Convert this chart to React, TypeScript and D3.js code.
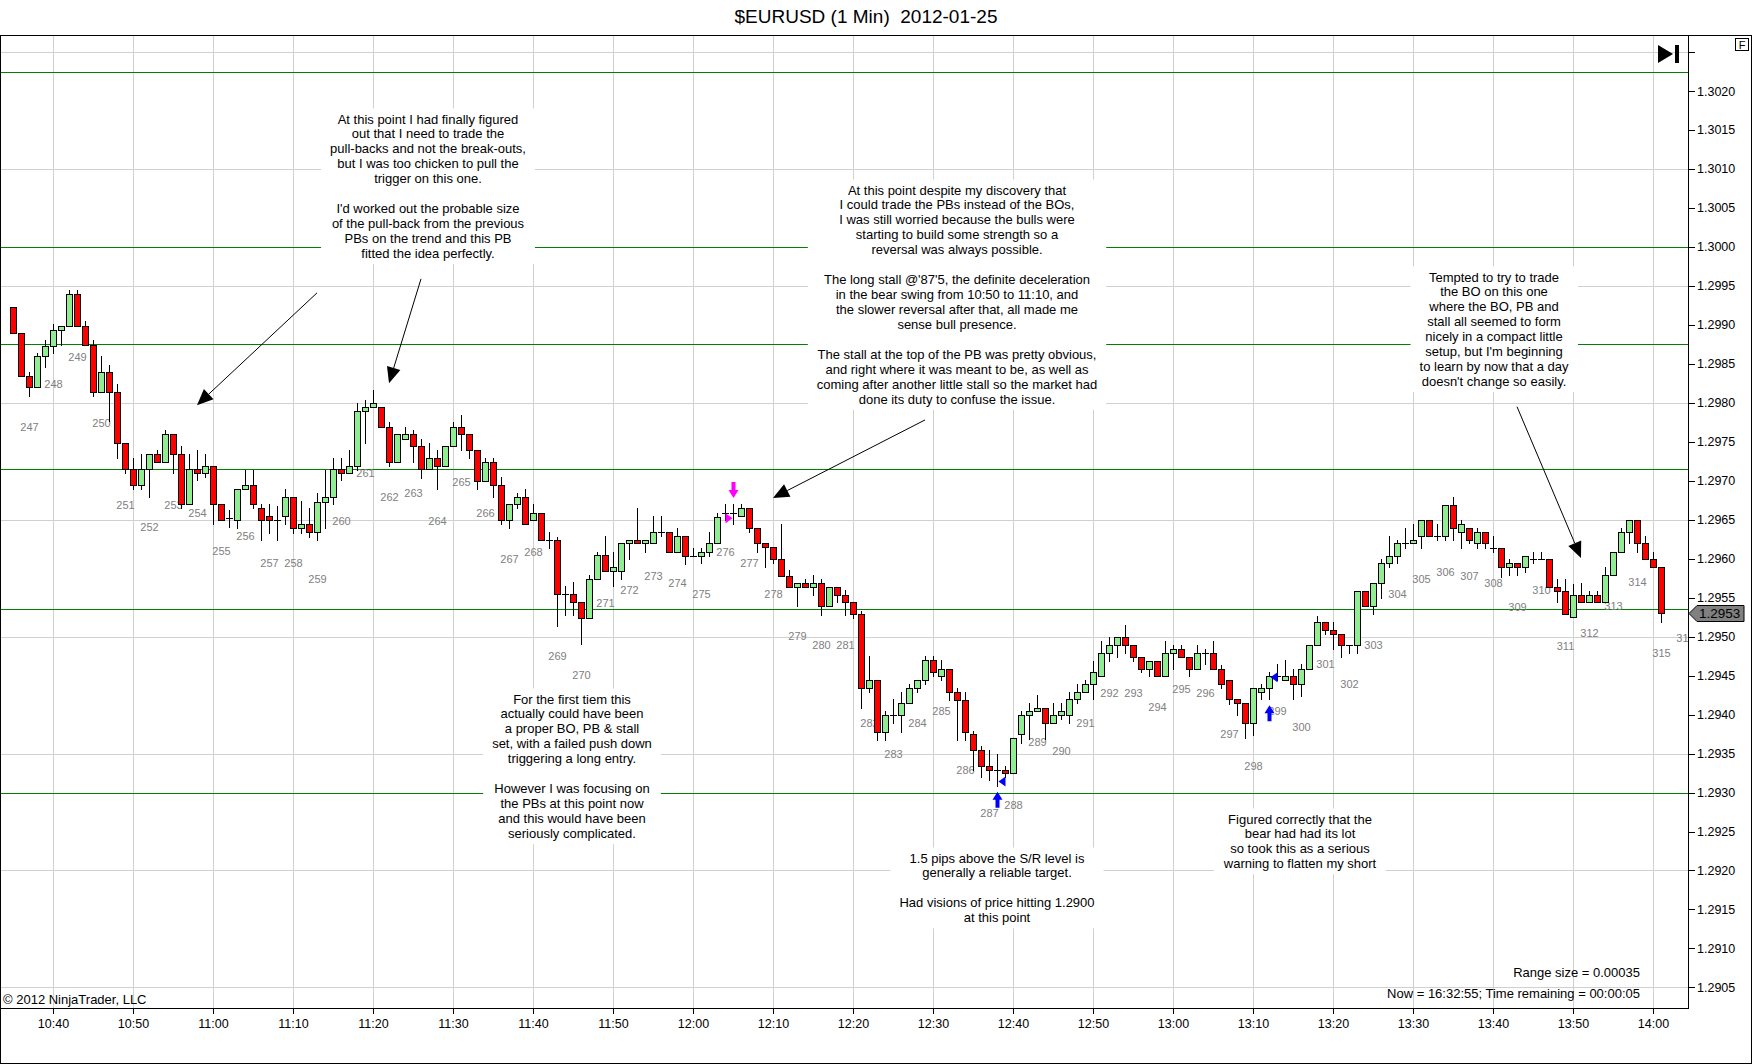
import { useEffect, useRef } from 'react';
import * as d3 from 'd3';

const W = 1752;
const H = 1064;
const FONT = '"Liberation Sans", Arial, sans-serif';

const TITLE = '$EURUSD (1 Min)  2012-01-25';
const FIRST_BAR = '10:35';

// one bar per minute, 10:35 .. 14:01
const opens = [
  1.29923, 1.29889, 1.29834, 1.29820, 1.29860, 1.29873, 1.29894, 1.29899, 1.29939, 1.29899,
  1.29874, 1.29814, 1.29839, 1.29814, 1.29749, 1.29715, 1.29695, 1.29715, 1.29734, 1.29724,
  1.29760, 1.29734, 1.29670, 1.29715, 1.29710, 1.29719, 1.29670, 1.29652, 1.29650, 1.29689,
  1.29694, 1.29665, 1.29655, 1.29650, 1.29655, 1.29679, 1.29639, 1.29644, 1.29634, 1.29673,
  1.29679, 1.29715, 1.29710, 1.29719, 1.29790, 1.29795, 1.29794, 1.29769, 1.29724, 1.29754,
  1.29760, 1.29744, 1.29715, 1.29729, 1.29719, 1.29744, 1.29769, 1.29760, 1.29739, 1.29700,
  1.29724, 1.29695, 1.29650, 1.29670, 1.29679, 1.29650, 1.29659, 1.29624, 1.29624, 1.29555,
  1.29555, 1.29544, 1.29524, 1.29574, 1.29605, 1.29584, 1.29584, 1.29620, 1.29624, 1.29620,
  1.29620, 1.29634, 1.29634, 1.29609, 1.29629, 1.29604, 1.29604, 1.29609, 1.29620, 1.29659,
  1.29659, 1.29655, 1.29665, 1.29639, 1.29620, 1.29615, 1.29599, 1.29578, 1.29564, 1.29569,
  1.29564, 1.29569, 1.29539, 1.29564, 1.29554, 1.29544, 1.29529, 1.29434, 1.29444, 1.29378,
  1.29399, 1.29399, 1.29415, 1.29434, 1.29444, 1.29470, 1.29449, 1.29459, 1.29429, 1.29419,
  1.29375, 1.29355, 1.29334, 1.29329, 1.29329, 1.29325, 1.29375, 1.29399, 1.29405, 1.29409,
  1.29389, 1.29399, 1.29399, 1.29420, 1.29429, 1.29439, 1.29449, 1.29479, 1.29489, 1.29499,
  1.29489, 1.29474, 1.29459, 1.29469, 1.29449, 1.29479, 1.29484, 1.29474, 1.29459, 1.29479,
  1.29479, 1.29459, 1.29444, 1.29420, 1.29415, 1.29389, 1.29429, 1.29434, 1.29449, 1.29444,
  1.29449, 1.29439, 1.29459, 1.29489, 1.29519, 1.29509, 1.29504, 1.29489, 1.29489, 1.29559,
  1.29539, 1.29569, 1.29594, 1.29604, 1.29620, 1.29620, 1.29629, 1.29649, 1.29629, 1.29629,
  1.29669, 1.29634, 1.29639, 1.29620, 1.29634, 1.29614, 1.29614, 1.29589, 1.29594, 1.29589,
  1.29599, 1.29599, 1.29599, 1.29564, 1.29559, 1.29525, 1.29554, 1.29544, 1.29554, 1.29544,
  1.29579, 1.29609, 1.29634, 1.29649, 1.29620, 1.29599, 1.29589,
];
const highs = [
  1.29923, 1.29889, 1.29840, 1.29864, 1.29880, 1.29901, 1.29899, 1.29945, 1.29945, 1.29905,
  1.29880, 1.29860, 1.29849, 1.29824, 1.29749, 1.29729, 1.29734, 1.29734, 1.29739, 1.29765,
  1.29760, 1.29744, 1.29734, 1.29739, 1.29734, 1.29719, 1.29670, 1.29662, 1.29689, 1.29714,
  1.29714, 1.29670, 1.29670, 1.29667, 1.29690, 1.29679, 1.29674, 1.29665, 1.29684, 1.29714,
  1.29729, 1.29729, 1.29740, 1.29800, 1.29804, 1.29816, 1.29794, 1.29775, 1.29760, 1.29769,
  1.29765, 1.29754, 1.29749, 1.29739, 1.29744, 1.29775, 1.29784, 1.29760, 1.29739, 1.29729,
  1.29729, 1.29705, 1.29670, 1.29684, 1.29689, 1.29670, 1.29659, 1.29634, 1.29628, 1.29565,
  1.29570, 1.29544, 1.29579, 1.29609, 1.29629, 1.29609, 1.29620, 1.29624, 1.29665, 1.29624,
  1.29655, 1.29655, 1.29634, 1.29639, 1.29629, 1.29614, 1.29614, 1.29634, 1.29659, 1.29670,
  1.29670, 1.29670, 1.29665, 1.29639, 1.29620, 1.29615, 1.29645, 1.29585, 1.29569, 1.29574,
  1.29579, 1.29574, 1.29564, 1.29564, 1.29560, 1.29544, 1.29533, 1.29475, 1.29444, 1.29404,
  1.29420, 1.29429, 1.29439, 1.29444, 1.29475, 1.29475, 1.29470, 1.29459, 1.29434, 1.29429,
  1.29379, 1.29360, 1.29355, 1.29349, 1.29334, 1.29370, 1.29405, 1.29415, 1.29425, 1.29409,
  1.29415, 1.29415, 1.29429, 1.29439, 1.29444, 1.29469, 1.29494, 1.29499, 1.29499, 1.29515,
  1.29489, 1.29474, 1.29469, 1.29469, 1.29494, 1.29489, 1.29489, 1.29474, 1.29489, 1.29484,
  1.29494, 1.29464, 1.29444, 1.29420, 1.29415, 1.29434, 1.29439, 1.29455, 1.29465, 1.29470,
  1.29459, 1.29465, 1.29489, 1.29526, 1.29519, 1.29519, 1.29504, 1.29489, 1.29559, 1.29559,
  1.29569, 1.29599, 1.29629, 1.29624, 1.29639, 1.29644, 1.29649, 1.29649, 1.29644, 1.29669,
  1.29679, 1.29649, 1.29639, 1.29639, 1.29634, 1.29629, 1.29614, 1.29599, 1.29594, 1.29604,
  1.29609, 1.29609, 1.29599, 1.29574, 1.29574, 1.29568, 1.29569, 1.29559, 1.29559, 1.29589,
  1.29609, 1.29639, 1.29649, 1.29649, 1.29629, 1.29609, 1.29589,
];
const lows = [
  1.29889, 1.29834, 1.29809, 1.29820, 1.29846, 1.29864, 1.29874, 1.29899, 1.29899, 1.29874,
  1.29809, 1.29814, 1.29776, 1.29729, 1.29710, 1.29689, 1.29689, 1.29679, 1.29724, 1.29724,
  1.29710, 1.29665, 1.29670, 1.29701, 1.29705, 1.29645, 1.29650, 1.29641, 1.29639, 1.29689,
  1.29665, 1.29624, 1.29633, 1.29624, 1.29644, 1.29633, 1.29633, 1.29628, 1.29624, 1.29639,
  1.29670, 1.29701, 1.29710, 1.29714, 1.29748, 1.29795, 1.29769, 1.29719, 1.29724, 1.29754,
  1.29724, 1.29704, 1.29715, 1.29689, 1.29719, 1.29744, 1.29739, 1.29729, 1.29689, 1.29700,
  1.29679, 1.29644, 1.29639, 1.29665, 1.29644, 1.29650, 1.29624, 1.29614, 1.29514, 1.29528,
  1.29528, 1.29490, 1.29524, 1.29574, 1.29584, 1.29565, 1.29574, 1.29599, 1.29620, 1.29609,
  1.29620, 1.29629, 1.29609, 1.29609, 1.29593, 1.29604, 1.29594, 1.29604, 1.29620, 1.29650,
  1.29644, 1.29655, 1.29634, 1.29609, 1.29589, 1.29594, 1.29578, 1.29564, 1.29539, 1.29564,
  1.29554, 1.29528, 1.29539, 1.29544, 1.29528, 1.29524, 1.29408, 1.29429, 1.29367, 1.29367,
  1.29389, 1.29378, 1.29415, 1.29429, 1.29439, 1.29449, 1.29444, 1.29419, 1.29368, 1.29368,
  1.29329, 1.29320, 1.29316, 1.29309, 1.29320, 1.29325, 1.29364, 1.29369, 1.29405, 1.29369,
  1.29389, 1.29394, 1.29389, 1.29415, 1.29429, 1.29420, 1.29449, 1.29469, 1.29474, 1.29479,
  1.29469, 1.29454, 1.29449, 1.29449, 1.29449, 1.29459, 1.29474, 1.29449, 1.29459, 1.29465,
  1.29459, 1.29434, 1.29414, 1.29399, 1.29370, 1.29374, 1.29420, 1.29420, 1.29444, 1.29444,
  1.29420, 1.29424, 1.29459, 1.29489, 1.29504, 1.29484, 1.29474, 1.29479, 1.29479, 1.29539,
  1.29529, 1.29549, 1.29589, 1.29594, 1.29614, 1.29620, 1.29614, 1.29629, 1.29624, 1.29624,
  1.29624, 1.29614, 1.29620, 1.29614, 1.29614, 1.29609, 1.29577, 1.29579, 1.29579, 1.29583,
  1.29594, 1.29599, 1.29564, 1.29544, 1.29529, 1.29525, 1.29544, 1.29544, 1.29544, 1.29544,
  1.29579, 1.29609, 1.29620, 1.29609, 1.29599, 1.29589, 1.29519,
];
const closes = [
  1.29889, 1.29834, 1.29820, 1.29860, 1.29873, 1.29894, 1.29899, 1.29939, 1.29899, 1.29874,
  1.29814, 1.29839, 1.29814, 1.29749, 1.29715, 1.29695, 1.29715, 1.29734, 1.29724, 1.29760,
  1.29734, 1.29670, 1.29715, 1.29710, 1.29719, 1.29670, 1.29650, 1.29652, 1.29689, 1.29694,
  1.29670, 1.29650, 1.29650, 1.29650, 1.29679, 1.29639, 1.29644, 1.29634, 1.29673, 1.29679,
  1.29715, 1.29710, 1.29719, 1.29790, 1.29794, 1.29800, 1.29769, 1.29724, 1.29760, 1.29760,
  1.29744, 1.29715, 1.29729, 1.29719, 1.29744, 1.29769, 1.29760, 1.29739, 1.29700, 1.29724,
  1.29695, 1.29650, 1.29670, 1.29679, 1.29644, 1.29659, 1.29624, 1.29624, 1.29555, 1.29555,
  1.29544, 1.29524, 1.29574, 1.29605, 1.29584, 1.29589, 1.29620, 1.29624, 1.29620, 1.29624,
  1.29634, 1.29634, 1.29609, 1.29629, 1.29604, 1.29604, 1.29609, 1.29620, 1.29654, 1.29659,
  1.29659, 1.29665, 1.29639, 1.29620, 1.29615, 1.29599, 1.29578, 1.29564, 1.29569, 1.29564,
  1.29569, 1.29539, 1.29564, 1.29554, 1.29544, 1.29529, 1.29434, 1.29444, 1.29378, 1.29399,
  1.29399, 1.29415, 1.29434, 1.29444, 1.29470, 1.29454, 1.29459, 1.29429, 1.29419, 1.29378,
  1.29355, 1.29334, 1.29329, 1.29329, 1.29325, 1.29370, 1.29399, 1.29405, 1.29409, 1.29389,
  1.29399, 1.29405, 1.29420, 1.29429, 1.29439, 1.29454, 1.29479, 1.29489, 1.29499, 1.29489,
  1.29474, 1.29459, 1.29469, 1.29449, 1.29479, 1.29484, 1.29474, 1.29459, 1.29479, 1.29479,
  1.29459, 1.29439, 1.29420, 1.29415, 1.29389, 1.29434, 1.29434, 1.29449, 1.29449, 1.29449,
  1.29439, 1.29459, 1.29489, 1.29519, 1.29509, 1.29504, 1.29489, 1.29489, 1.29559, 1.29539,
  1.29569, 1.29594, 1.29604, 1.29620, 1.29620, 1.29624, 1.29649, 1.29629, 1.29629, 1.29669,
  1.29639, 1.29644, 1.29624, 1.29634, 1.29620, 1.29614, 1.29589, 1.29594, 1.29589, 1.29604,
  1.29599, 1.29599, 1.29564, 1.29559, 1.29529, 1.29554, 1.29544, 1.29554, 1.29544, 1.29579,
  1.29609, 1.29634, 1.29649, 1.29620, 1.29599, 1.29589, 1.29530,
];

// bar counter labels, every third bar starting with bar 247 at 10:37
const FIRST_LABEL = 247;
const FIRST_LABEL_TIME = '10:37';
const labelPrices = [
  1.29769, 1.29824, 1.29859, 1.29774, 1.29669, 1.29641, 1.29669, 1.29659, 1.29610, 1.29629,
  1.29594, 1.29594, 1.29574, 1.29648, 1.29710, 1.29679, 1.29684, 1.29648, 1.29698, 1.29659,
  1.29600, 1.29609, 1.29475, 1.29450, 1.29543, 1.29559, 1.29578, 1.29569, 1.29555, 1.29609,
  1.29594, 1.29555, 1.29500, 1.29489, 1.29489, 1.29389, 1.29349, 1.29389, 1.29405, 1.29329,
  1.29274, 1.29284, 1.29364, 1.29353, 1.29389, 1.29428, 1.29428, 1.29410, 1.29433, 1.29428,
  1.29375, 1.29334, 1.29405, 1.29384, 1.29465, 1.29439, 1.29489, 1.29555, 1.29574, 1.29583,
  1.29578, 1.29569, 1.29538, 1.29560, 1.29488, 1.29505, 1.29539, 1.29570, 1.29479, 1.29498,
];

const timeTicks = [
  '10:40', '10:50', '11:00', '11:10', '11:20', '11:30', '11:40', '11:50', '12:00', '12:10', '12:20',
  '12:30', '12:40', '12:50', '13:00', '13:10', '13:20', '13:30', '13:40', '13:50', '14:00',
];
const priceTicks = [
  1.2905, 1.291, 1.2915, 1.292, 1.2925, 1.293, 1.2935, 1.294, 1.2945, 1.295, 1.2955, 1.296,
  1.2965, 1.297, 1.2975, 1.298, 1.2985, 1.299, 1.2995, 1.3, 1.3005, 1.301, 1.3015, 1.302,
];
const gridPrices = [1.2905, 1.292, 1.2935, 1.295, 1.2965, 1.298, 1.2995, 1.301, 1.3025];
const levels = [1.30225, 1.3, 1.29875, 1.29715, 1.29535, 1.293];

const arrows = [
  { from: ['11:13', 1.29941], to: ['10:58', 1.29797] },
  { from: ['11:26', 1.29959], to: ['11:22', 1.29825] },
  { from: ['12:29', 1.29778], to: ['12:10', 1.29678] },
  { from: ['13:43', 1.29795], to: ['13:51', 1.29601] },
];

const signals = [
  { kind: 'down', time: '12:05', price: 1.29678, color: '#ff00ff' },
  { kind: 'right', time: '12:05', price: 1.29652, color: '#ff00ff' },
  { kind: 'up', time: '12:38', price: 1.29301, color: '#0000ff' },
  { kind: 'left', time: '12:38', price: 1.29314, color: '#0000ff' },
  { kind: 'up', time: '13:12', price: 1.29412, color: '#0000ff' },
  { kind: 'left', time: '13:12', price: 1.29448, color: '#0000ff' },
];

const notes = [
  {
    x: 428, y: 119,
    lines: [
      'At this point I had finally figured', 'out that I need to trade the', 'pull-backs and not the break-outs,',
      'but I was too chicken to pull the', 'trigger on this one.', '', "I'd worked out the probable size",
      'of the pull-back from the previous', 'PBs on the trend and this PB', 'fitted the idea perfectly.',
    ],
  },
  {
    x: 957, y: 190,
    lines: [
      'At this point despite my discovery that', 'I could trade the PBs instead of the BOs,',
      'I was still worried because the bulls were', 'starting to build some strength so a', 'reversal was always possible.', '',
      "The long stall @'87'5, the definite deceleration", 'in the bear swing from 10:50 to 11:10, and',
      'the slower reversal after that, all made me', 'sense bull presence.', '',
      'The stall at the top of the PB was pretty obvious,', 'and right where it was meant to be, as well as',
      'coming after another little stall so the market had', 'done its duty to confuse the issue.',
    ],
  },
  {
    x: 1494, y: 277,
    lines: [
      'Tempted to try to trade', 'the BO on this one', 'where the BO, PB and', 'stall all seemed to form',
      'nicely in a compact little', "setup, but I'm beginning", 'to learn by now that a day', "doesn't change so easily.",
    ],
  },
  {
    x: 572, y: 699,
    lines: [
      'For the first tiem this', 'actually could have been', 'a proper BO, PB & stall', 'set, with a failed push down',
      'triggering a long entry.', '', 'However I was focusing on', 'the PBs at this point now', 'and this would have been',
      'seriously complicated.',
    ],
  },
  {
    x: 997, y: 858,
    lines: [
      '1.5 pips above the S/R level is', 'generally a reliable target.', '', 'Had visions of price hitting 1.2900', 'at this point',
    ],
  },
  {
    x: 1300, y: 819,
    lines: ['Figured correctly that the', 'bear had had its lot', 'so took this as a serious', 'warning to flatten my short'],
  },
];

const PLOT = { left: 0, top: 35, right: 1688, bottom: 1008 };

const toMin = (s: string) => +s.slice(0, 2) * 60 + +s.slice(3);

export default function App() {
  const svgRef = useRef<SVGSVGElement>(null);

  useEffect(() => {
    const svg = d3.select(svgRef.current);
    svg.selectAll('*').remove();

    const x = d3.scaleLinear().domain([toMin('10:40'), toMin('14:00')]).range([53, 1653]);
    const y = d3.scaleLinear().domain([1.2905, 1.302]).range([987.4, 91]);
    const cr = (v: number) => Math.round(v) + 0.5;

    svg.append('rect').attr('width', W).attr('height', H).attr('fill', '#fff');

    svg.append('text').attr('x', 866).attr('y', 23).attr('text-anchor', 'middle')
      .attr('font-family', FONT).attr('font-size', 19).style('white-space', 'pre').text(TITLE);

    svg.append('defs').append('clipPath').attr('id', 'plotclip').append('rect')
      .attr('x', PLOT.left).attr('y', PLOT.top).attr('width', PLOT.right - PLOT.left).attr('height', PLOT.bottom - PLOT.top);
    const plot = svg.append('g').attr('clip-path', 'url(#plotclip)');

    // Grid
    timeTicks.forEach(t => {
      plot.append('line').attr('x1', cr(x(toMin(t)))).attr('x2', cr(x(toMin(t))))
        .attr('y1', PLOT.top).attr('y2', PLOT.bottom).attr('stroke', '#d0d0d0');
    });
    gridPrices.forEach(p => {
      plot.append('line').attr('x1', PLOT.left).attr('x2', PLOT.right)
        .attr('y1', cr(y(p))).attr('y2', cr(y(p))).attr('stroke', '#d0d0d0');
    });

    // S/R levels
    levels.forEach(p => {
      plot.append('line').attr('x1', PLOT.left).attr('x2', PLOT.right)
        .attr('y1', cr(y(p))).attr('y2', cr(y(p))).attr('stroke', '#008000');
    });

    // Notes on white boxes
    notes.forEach(n => {
      const g = plot.append('g');
      n.lines.forEach((line, i) => {
        g.append('text').attr('x', n.x).attr('y', n.y + i * 14.95 + 4.5).attr('text-anchor', 'middle')
          .attr('font-family', FONT).attr('font-size', 13).attr('fill', '#000').text(line);
      });
      const bb = (g.node() as SVGGElement).getBBox();
      g.insert('rect', ':first-child').attr('x', bb.x - 9).attr('y', bb.y - 3)
        .attr('width', bb.width + 18).attr('height', bb.height + 6).attr('fill', '#fff');
    });

    // Bar counters
    labelPrices.forEach((p, i) => {
      const t = toMin(FIRST_LABEL_TIME) + i * 3;
      plot.append('text').attr('x', x(t) + 0.5).attr('y', y(p)).attr('dy', '0.35em').attr('text-anchor', 'middle')
        .attr('font-family', FONT).attr('font-size', 11).attr('fill', '#808080').text(String(FIRST_LABEL + i));
    });

    // Candles
    const start = toMin(FIRST_BAR);
    opens.forEach((o, i) => {
      const c = closes[i];
      const cx = Math.round(x(start + i));
      plot.append('line').attr('x1', cx + 0.5).attr('x2', cx + 0.5)
        .attr('y1', Math.round(y(highs[i]))).attr('y2', Math.round(y(lows[i])) + 1).attr('stroke', '#000');
      if (Math.abs(c - o) < 0.000015) {
        plot.append('line').attr('x1', cx - 3).attr('x2', cx + 4)
          .attr('y1', cr(y(o))).attr('y2', cr(y(o))).attr('stroke', '#000');
      } else {
        const top = Math.round(y(Math.max(o, c)));
        const bot = Math.round(y(Math.min(o, c)));
        plot.append('rect').attr('x', cx - 2.5).attr('y', top + 0.5).attr('width', 6)
          .attr('height', Math.max(1, bot - top)).attr('fill', c > o ? '#90ee90' : '#ff0000')
          .attr('stroke', '#000').attr('stroke-width', 1);
      }
    });

    // Signal markers
    signals.forEach(s => {
      const sx = Math.round(x(toMin(s.time))) + 0.5;
      const sy = y(s.price);
      let pts: number[][] = [];
      if (s.kind === 'up') {
        pts = [[sx, sy], [sx + 5, sy + 8], [sx + 2, sy + 8], [sx + 2, sy + 16], [sx - 2, sy + 16], [sx - 2, sy + 8], [sx - 5, sy + 8]];
      } else if (s.kind === 'down') {
        pts = [[sx, sy], [sx + 5, sy - 8], [sx + 2, sy - 8], [sx + 2, sy - 16], [sx - 2, sy - 16], [sx - 2, sy - 8], [sx - 5, sy - 8]];
      } else if (s.kind === 'left') {
        pts = [[sx + 1, sy], [sx + 8, sy - 5], [sx + 8, sy + 5]];
      } else {
        pts = [[sx - 1, sy], [sx - 8, sy - 5], [sx - 8, sy + 5]];
      }
      plot.append('polygon').attr('points', pts.map(p => p.join(',')).join(' ')).attr('fill', s.color);
    });

    // Arrows
    arrows.forEach(a => {
      const x1 = x(toMin(a.from[0] as string)), y1 = y(a.from[1] as number);
      const x2 = x(toMin(a.to[0] as string)), y2 = y(a.to[1] as number);
      const len = Math.hypot(x2 - x1, y2 - y1);
      const ux = (x2 - x1) / len, uy = (y2 - y1) / len;
      const bx = x2 - ux * 16, by = y2 - uy * 16;
      plot.append('line').attr('x1', x1).attr('y1', y1).attr('x2', bx).attr('y2', by).attr('stroke', '#000');
      plot.append('polygon')
        .attr('points', `${x2},${y2} ${bx - uy * 7},${by + ux * 7} ${bx + uy * 7},${by - ux * 7}`)
        .attr('fill', '#000');
    });

    // Info texts
    plot.append('text').attr('x', 3).attr('y', 1004).attr('font-family', FONT).attr('font-size', 13)
      .text('\u00a9 2012 NinjaTrader, LLC');
    plot.append('text').attr('x', 1640).attr('y', 977).attr('text-anchor', 'end').attr('font-family', FONT)
      .attr('font-size', 13).text('Range size = 0.00035');
    plot.append('text').attr('x', 1640).attr('y', 998).attr('text-anchor', 'end').attr('font-family', FONT)
      .attr('font-size', 13).text('Now = 16:32:55; Time remaining = 00:00:05');

    // ▶| button
    plot.append('polygon').attr('points', '1658,45 1673,54 1658,63').attr('fill', '#000');
    plot.append('rect').attr('x', 1675).attr('y', 45).attr('width', 4).attr('height', 18).attr('fill', '#000');

    // Frame
    svg.append('line').attr('x1', 0).attr('x2', W).attr('y1', PLOT.top + 0.5).attr('y2', PLOT.top + 0.5).attr('stroke', '#000');
    svg.append('line').attr('x1', 0).attr('x2', PLOT.right).attr('y1', PLOT.bottom + 0.5).attr('y2', PLOT.bottom + 0.5).attr('stroke', '#000');
    svg.append('line').attr('x1', PLOT.right + 0.5).attr('x2', PLOT.right + 0.5).attr('y1', PLOT.top).attr('y2', PLOT.bottom + 1).attr('stroke', '#000');
    svg.append('rect').attr('x', 0.5).attr('y', PLOT.top + 0.5).attr('width', W - 1).attr('height', H - PLOT.top - 1)
      .attr('fill', 'none').attr('stroke', '#000');

    // Price axis
    const yAxis = svg.append('g');
    [...priceTicks, 1.3025].forEach(p => {
      yAxis.append('line').attr('x1', PLOT.right).attr('x2', PLOT.right + 7)
        .attr('y1', cr(y(p))).attr('y2', cr(y(p))).attr('stroke', '#000');
    });
    priceTicks.forEach(p => {
      yAxis.append('text').attr('x', PLOT.right + 9).attr('y', y(p)).attr('dy', '0.36em')
        .attr('font-family', FONT).attr('font-size', 12.5).text(d3.format('.4f')(p));
    });

    // Last price marker
    const last = closes[closes.length - 1];
    const ly = Math.round(y(last)) + 0.5;
    yAxis.append('path')
      .attr('d', `M${PLOT.right + 1},${ly} L${PLOT.right + 9},${ly - 8} L1744,${ly - 8} L1744,${ly + 8} L${PLOT.right + 9},${ly + 8} Z`)
      .attr('fill', '#808080').attr('stroke', '#000');
    yAxis.append('text').attr('x', PLOT.right + 11).attr('y', ly).attr('dy', '0.36em')
      .attr('font-family', FONT).attr('font-size', 13.5).attr('fill', '#000').text(d3.format('.4f')(last));

    // F box
    svg.append('rect').attr('x', 1735.5).attr('y', 38.5).attr('width', 13).attr('height', 12)
      .attr('fill', '#fff').attr('stroke', '#000');
    svg.append('text').attr('x', 1742).attr('y', 48.5).attr('text-anchor', 'middle')
      .attr('font-family', FONT).attr('font-size', 11).text('F');

    // Time axis
    const xAxis = svg.append('g');
    timeTicks.forEach(t => {
      const tx = cr(x(toMin(t)));
      xAxis.append('line').attr('x1', tx).attr('x2', tx).attr('y1', PLOT.bottom).attr('y2', PLOT.bottom + 6).attr('stroke', '#000');
      xAxis.append('text').attr('x', tx).attr('y', 1028).attr('text-anchor', 'middle')
        .attr('font-family', FONT).attr('font-size', 12.5).text(t);
    });
  }, []);

  return (
    <svg ref={svgRef} width={W} height={H}
      style={{ position: 'absolute', left: 0, top: 0, display: 'block', background: '#fff' }} />
  );
}
